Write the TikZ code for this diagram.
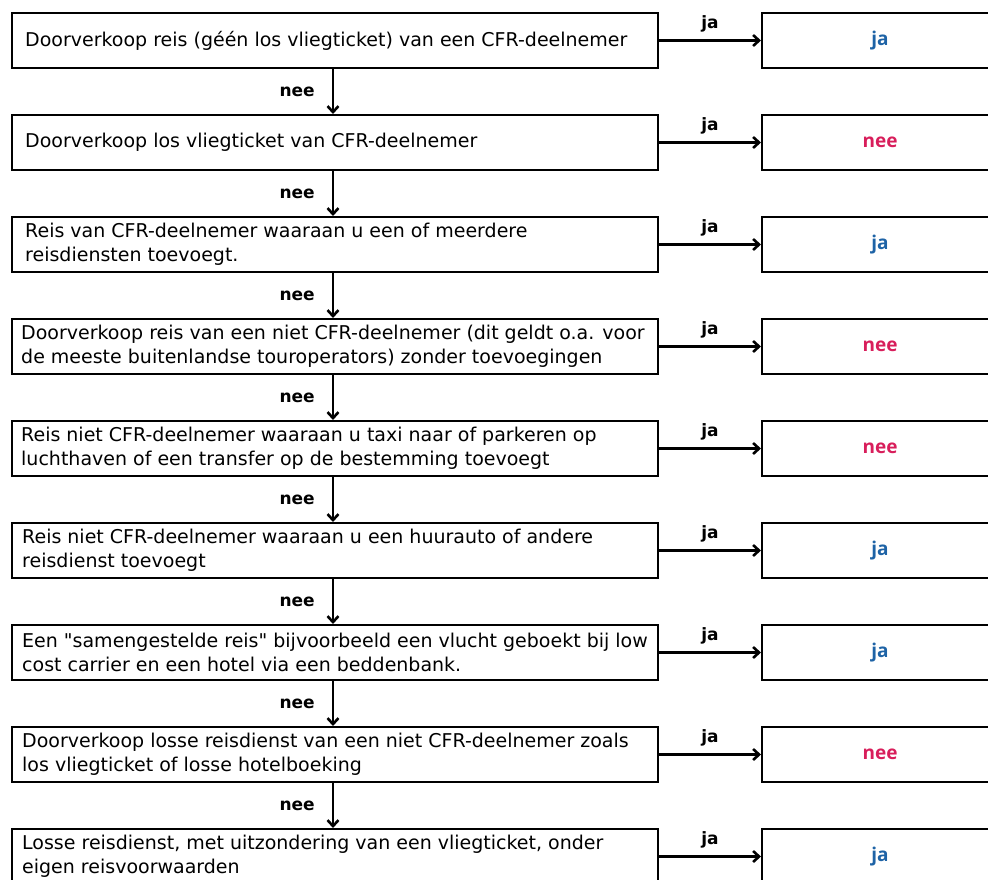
\documentclass[tikz,border=0pt]{standalone}
\usepackage{fontspec}
\setmainfont{DejaVu Sans}
\newfontfamily\resfont{Open Sans}
\usetikzlibrary{arrows.meta}
\definecolor{jablue}{HTML}{1E63A6}
\definecolor{neered}{HTML}{D81E5B}
\newcommand{\sq}{{\XeTeXglyph\XeTeXglyphindex "quotedbl"\relax}}
\begin{document}
\begin{tikzpicture}[x=1pt,y=-1pt,
  qbox/.style={draw, line width=2pt, minimum width=646pt, minimum height=55pt, anchor=north west, inner sep=0pt},
  abox/.style={draw, line width=2pt, minimum width=236pt, minimum height=55pt, anchor=north west, inner sep=0pt},
  qtext/.style={anchor=west, align=left, inner sep=0pt, font=\fontsize{19}{24}\selectfont},
  arr/.style={line width=2.6pt, -{Straight Barb[length=6pt,width=11pt]}},
  lab/.style={font=\fontsize{17}{20}\selectfont\bfseries, inner sep=0pt},
  res/.style={font=\resfont\fontsize{19}{20}\selectfont\bfseries, inner sep=0pt},
  ja/.style={res, text=jablue},
  nee/.style={res, text=neered}
]
\useasboundingbox (0,0) rectangle (988,879);
\clip (0,0) rectangle (988,879);
\coordinate (ax) at (333,0);

% question boxes
\node[qbox] (q1) at (11,12) {};
\node[qbox] (q2) at (11,114) {};
\node[qbox] (q3) at (11,216) {};
\node[qbox] (q4) at (11,318) {};
\node[qbox] (q5) at (11,420) {};
\node[qbox] (q6) at (11,522) {};
\node[qbox] (q7) at (11,624) {};
\node[qbox] (q8) at (11,726) {};
\node[qbox] (q9) at (11,828) {};

% answer boxes
\node[abox] (r1) at (761,12) {};
\node[abox] (r2) at (761,114) {};
\node[abox] (r3) at (761,216) {};
\node[abox] (r4) at (761,318) {};
\node[abox] (r5) at (761,420) {};
\node[abox] (r6) at (761,522) {};
\node[abox] (r7) at (761,624) {};
\node[abox] (r8) at (761,726) {};
\node[abox] (r9) at (761,828) {};

% question texts
\node[qtext] (t1) at ([xshift=14pt]q1.west) {Doorverkoop reis (géén los vliegticket) van een CFR-deelnemer};
\node[qtext] (t2) at ([xshift=14pt]q2.west) {Doorverkoop los vliegticket van CFR-deelnemer};
\node[qtext] (t3) at ([xshift=14pt]q3.west) {Reis van CFR-deelnemer waaraan u een of meerdere\\reisdiensten toevoegt.};
\node[qtext] (t4) at ([xshift=10pt]q4.west) {Doorverkoop reis van een niet CFR-deelnemer (dit geldt o.a. voor\\de meeste buitenlandse touroperators) zonder toevoegingen};
\node[qtext] (t5) at ([xshift=10pt]q5.west) {Reis niet CFR-deelnemer waaraan u taxi naar of parkeren op\\luchthaven of een transfer op de bestemming toevoegt};
\node[qtext] (t6) at ([xshift=11pt]q6.west) {Reis niet CFR-deelnemer waaraan u een huurauto of andere\\reisdienst toevoegt};
\node[qtext] (t7) at ([xshift=11pt]q7.west) {Een \sq samengestelde reis\sq{} bijvoorbeeld een vlucht geboekt bij low\\cost carrier en een hotel via een beddenbank.};
\node[qtext] (t8) at ([xshift=11pt]q8.west) {Doorverkoop losse reisdienst van een niet CFR-deelnemer zoals\\los vliegticket of losse hotelboeking};
\node[qtext] (t9) at ([xshift=11pt]q9.west) {Losse reisdienst, met uitzondering van een vliegticket, onder\\eigen reisvoorwaarden};

% answer texts
\node[ja]  (s1) at (r1.center) {ja};
\node[nee] (s2) at (r2.center) {nee};
\node[ja]  (s3) at (r3.center) {ja};
\node[nee] (s4) at (r4.center) {nee};
\node[nee] (s5) at (r5.center) {nee};
\node[ja]  (s6) at (r6.center) {ja};
\node[ja]  (s7) at (r7.center) {ja};
\node[nee] (s8) at (r8.center) {nee};
\node[ja]  (s9) at (r9.center) {ja};

% ja arrows
\foreach \i in {1,...,9}{
  \draw[arr] (q\i.east) -- (r\i.west) node[lab, midway, yshift=17pt] (j\i) {ja};
}

% nee arrows
\foreach \i/\k in {1/2,2/3,3/4,4/5,5/6,6/7,7/8,8/9}{
  \draw[arr] (q\i.south -| ax) -- (q\k.north -| ax) node[lab, midway, left=17pt] (n\i) {nee};
}
\end{tikzpicture}
\end{document}
